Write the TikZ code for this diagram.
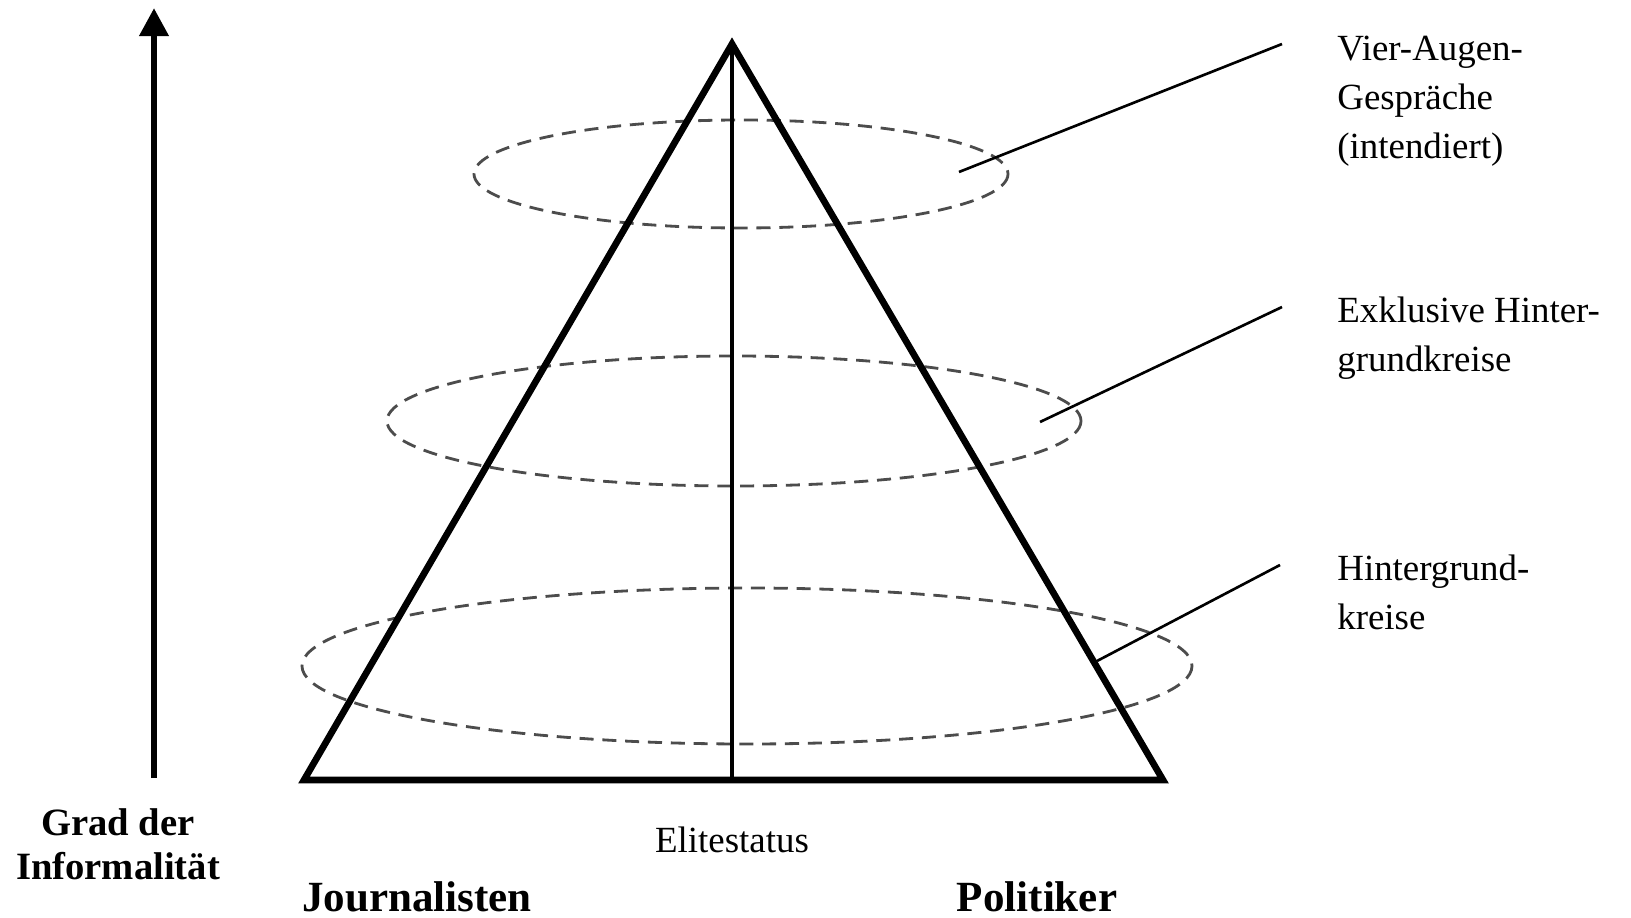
\documentclass[tikz,border=0pt]{standalone}
\usepackage{fontspec}
\setmainfont{Liberation Serif}
\usetikzlibrary{arrows.meta}
\begin{document}
\begin{tikzpicture}[x=0.02cm,y=-0.02cm,
  thickline/.style={line width=3.8pt, line join=miter},
  midline/.style={line width=2.4pt},
  ring/.style={draw=black!70, line width=1.6pt, dash pattern=on 8pt off 5pt},
  leader/.style={draw, line width=1.5pt},
  lbl/.style={font=\fontsize{21}{27.7}\selectfont, align=left, anchor=north west, inner sep=0pt},
  axislbl/.style={font=\bfseries\fontsize{22}{25}\selectfont, align=center, inner sep=0pt},
  side/.style={font=\bfseries\fontsize{24.5}{30}\selectfont, inner sep=0pt}]
\useasboundingbox (0,0) rectangle (1631,918);
% dashed rings
\draw[ring] (741,174) ellipse [x radius=267, y radius=54];
\draw[ring] (734,421) ellipse [x radius=347, y radius=65];
\draw[ring] (747,666) ellipse [x radius=445, y radius=78];
% pyramid
\coordinate (apex) at (732,44);
\coordinate (bl) at (304,780);
\coordinate (br) at (1163,780);
\coordinate (bm) at (732,780);
\draw[thickline] (bl) -- (apex) -- (br) -- cycle;
\draw[midline] (apex) -- (bm);
% informality arrow
\coordinate (abot) at (154,778);
\coordinate (atop) at (154,8);
\draw[line width=3.8pt, -{Triangle[length=16pt,width=16pt]}] (abot) -- (atop);
% labels
\node[lbl] (l1) at (1337,36) {Vier-Augen-\\Gespräche\\(intendiert)};
\node[lbl] (l2) at (1337,297) {Exklusive Hinter-\\grundkreise};
\node[lbl] (l3) at (1337,555) {Hintergrund-\\kreise};
% leaders
\coordinate (e1) at (959,172); \coordinate (t1) at (1282,44);
\coordinate (e2) at (1040,422); \coordinate (t2) at (1282,307);
\coordinate (e3) at (1097,661); \coordinate (t3) at (1280,565);
\draw[leader] (e1) -- (t1);
\draw[leader] (e2) -- (t2);
\draw[leader] (e3) -- (t3);
% bottom labels
\node[axislbl] (grad) at (118,844) {Grad der\\Informalität};
\node[font=\fontsize{21}{25}\selectfont, inner sep=0pt] (elite) at (732,840) {Elitestatus};
\node[side] (journ) at (417,897) {Journalisten};
\node[side] (pol) at (1037,897) {Politiker};
\end{tikzpicture}
\end{document}
